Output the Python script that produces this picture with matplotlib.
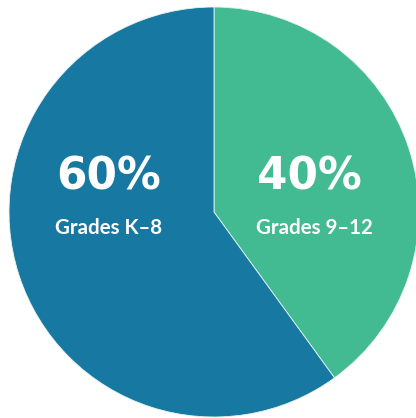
import matplotlib
matplotlib.use("Agg")
import matplotlib.pyplot as plt

labels = ["Grades 9\u201312", "Grades K\u20138"]
values = [40, 60]
pct_labels = ["40%", "60%"]
colors = ["#43bb92", "#1779a1"]

W, H = 416, 418
fig = plt.figure(figsize=(W / 100, H / 100), dpi=100)
ax = fig.add_axes([0, 0, 1, 1])
cx, cy, r = 214, H - 212, 205
ax.pie(values, colors=colors, startangle=90, counterclock=False,
       center=(cx, cy), radius=r,
       wedgeprops=dict(edgecolor="#e8f2ef", linewidth=0.6))
ax.set_xlim(0, W)
ax.set_ylim(0, H)
ax.set_aspect("auto")
ax.axis("off")

# label positions (left x, baseline y in pixel coordinates from top)
pos = {"40%": (257, 189, 256, 234), "60%": (56, 189, 55, 234)}
for lab, pct in zip(labels, pct_labels):
    x1, y1, x2, y2 = pos[pct]
    ax.text(x1, H - y1, pct, color="white", fontsize=31.5, fontweight="bold",
            family="DejaVu Sans", ha="left", va="baseline")
    ax.text(x2, H - y2, lab, color="white", fontsize=14.8, fontweight="bold",
            family="Lato", ha="left", va="baseline")

fig.savefig("out.png", dpi=100)
